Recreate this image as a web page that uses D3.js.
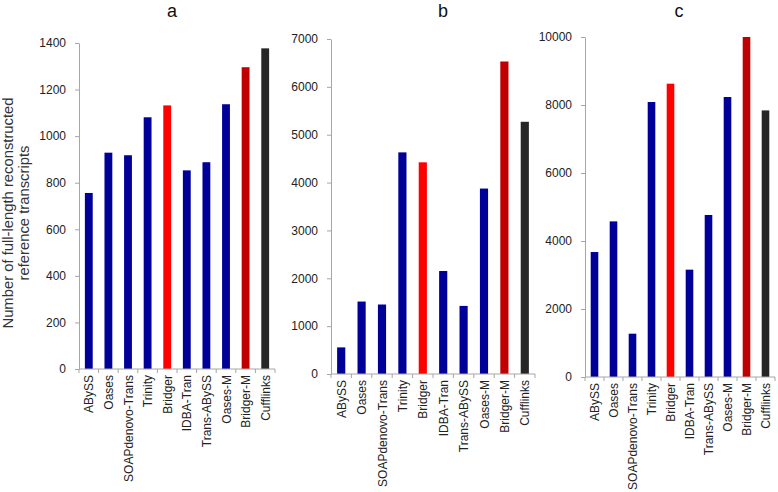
<!DOCTYPE html>
<html>
<head>
<meta charset="utf-8">
<script src="https://cdn.jsdelivr.net/npm/d3@7"></script>
<style>
  body { margin: 0; background: #fff; }
  svg { font-family: "Liberation Sans", Arial, sans-serif; }
  .axis path, .axis line { stroke: #a6a6a6; }
  .axis text { fill: #222; font-size: 12px; }
</style>
</head>
<body>
<script>
// data
const categories = ["ABySS", "Oases", "SOAPdenovo-Trans", "Trinity", "Bridger",
                    "IDBA-Tran", "Trans-ABySS", "Oases-M", "Bridger-M", "Cufflinks"]
const valuesA = [756, 929, 918, 1081, 1132, 853, 888, 1137, 1296, 1377]
const valuesB = [556, 1514, 1452, 4631, 4423, 2152, 1423, 3875, 6530, 5270]
const valuesC = [3676, 4577, 1274, 8088, 8627, 3157, 4765, 8235, 10000, 7841]
const barColors = ["#000099", "#000099", "#000099", "#000099", "#ff0000",
                   "#000099", "#000099", "#000099", "#c00000", "#262626"]
const panelTitles = ["a", "b", "c"]
const yMax = [1400, 7000, 10000]
const yStep = [200, 1000, 2000]

const w = 778
const h = 492

const svg = d3.select("body")
              .append("svg")
              .attr("width", w)
              .attr("height", h)

// layout of the three panels
const panels = [
  {left: 79,  right: 275, bottom: 369, top: 43, titleX: 172, values: valuesA},
  {left: 331, right: 535, bottom: 374, top: 39, titleX: 443, values: valuesB},
  {left: 585, right: 775, bottom: 377, top: 37, titleX: 679, values: valuesC}
]

panels.forEach((p, i) => {
  const xScale = d3.scaleBand()
                   .domain(categories)
                   .range([p.left, p.right])
  const yScale = d3.scaleLinear()
                   .domain([0, yMax[i]])
                   .range([p.bottom, p.top])

  const barW = xScale.bandwidth() * 0.4

  svg.append("g")
     .selectAll("rect")
     .data(categories)
     .enter()
     .append("rect")
     .attr("x", d => xScale(d) + (xScale.bandwidth() - barW) / 2)
     .attr("width", barW)
     .attr("y", (d, j) => yScale(p.values[j]))
     .attr("height", (d, j) => p.bottom - yScale(p.values[j]))
     .style("fill", (d, j) => barColors[j])

  // y axis
  const yAxis = d3.axisLeft(yScale)
                  .tickValues(d3.range(0, yMax[i] + 1, yStep[i]))
                  .tickFormat(d3.format("d"))
                  .tickSize(4)
                  .tickSizeOuter(0)
                  .tickPadding(9)
  svg.append("g")
     .attr("class", "axis")
     .attr("transform", "translate(" + p.left + ",0)")
     .call(yAxis)

  // x axis: ticks sit on the band edges
  const edges = categories.map(c => xScale(c)).concat([p.right])
  const xg = svg.append("g")
                .attr("class", "axis")
  xg.append("line")
    .attr("x1", p.left).attr("x2", p.right)
    .attr("y1", p.bottom).attr("y2", p.bottom)
  xg.selectAll(".tk")
    .data(edges)
    .enter()
    .append("line")
    .attr("x1", d => d).attr("x2", d => d)
    .attr("y1", p.bottom).attr("y2", p.bottom + 4)
  xg.selectAll("text")
    .data(categories)
    .enter()
    .append("text")
    .attr("transform", d => "translate(" + (xScale(d) + xScale.bandwidth() / 2 + 4.5) + "," + (p.bottom + 6) + ") rotate(-90)")
    .attr("text-anchor", "end")
    .text(d => d)

  svg.append("text")
     .attr("x", p.titleX)
     .attr("y", 17)
     .attr("text-anchor", "middle")
     .style("font-size", "18px")
     .style("fill", "#111")
     .text(panelTitles[i])
})

// y axis title
const yTitle = svg.append("text")
                  .attr("transform", "translate(13,213) rotate(-90)")
                  .attr("text-anchor", "middle")
                  .style("font-size", "14.8px")
                  .style("fill", "#333")
yTitle.append("tspan").attr("x", 0).attr("dy", 0).text("Number of full-length reconstructed")
yTitle.append("tspan").attr("x", 0).attr("dy", 16).text("reference transcripts")
</script>
</body>
</html>
